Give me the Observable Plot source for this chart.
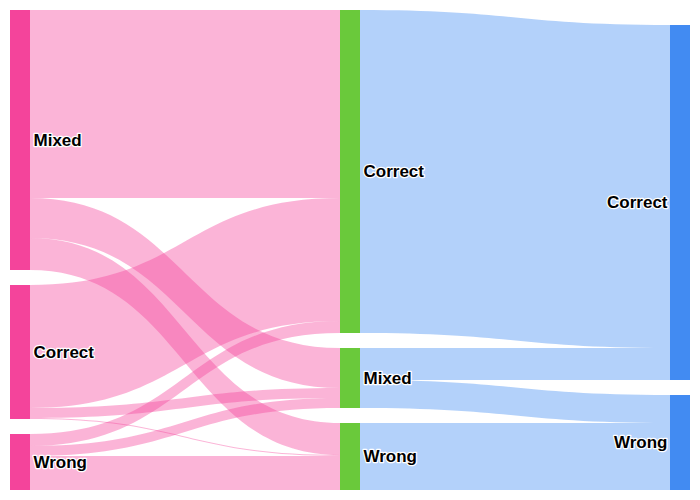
<!DOCTYPE html>
<html>
<head>
<meta charset="utf-8">
<script src="https://cdn.jsdelivr.net/npm/d3@7"></script>
<script src="https://cdn.jsdelivr.net/npm/@observablehq/plot@0.6"></script>
<style>
  html, body { margin: 0; padding: 0; background: #fff; }
  #chart svg { display: block; font-family: "Liberation Sans", Arial, sans-serif; }
</style>
</head>
<body>
<div id="chart"></div>
<script>
// ---- Data ----
const stage1Labels = ["Mixed", "Correct", "Wrong"];
const stage2Labels = ["Correct", "Mixed", "Wrong"];
const stage3Labels = ["Correct", "Wrong"];

// flows from stage 1 nodes (rows) to stage 2 nodes (columns: Correct, Mixed, Wrong)
const fromMixed1   = [94, 20, 16];
const fromCorrect1 = [61.5, 5, 0.5];
const fromWrong1   = [6, 5, 17];

// flows from stage 2 nodes (rows) to stage 3 nodes (columns: Correct, Wrong)
const fromCorrect2 = [161.5, 0];
const fromMixed2   = [16, 14];
const fromWrong2   = [0, 33.5];

const nodeColors = ["#f4449b", "#6ac93b", "#428bf2"];
const linkColors = ["#f4449b", "#428bf2"];
const columnAlign = ["top", "top", "bottom"];

// ---- Layout (computed from the data) ----
const columns = [stage1Labels, stage2Labels, stage3Labels];
const flows = [
  [fromMixed1, fromCorrect1, fromWrong1],
  [fromCorrect2, fromMixed2, fromWrong2]
];
const pad = 7.5;          // gap between nodes, in value units
const nodeW = 1 / 34;     // node width as a share of the x domain

const nodeValues = columns.map((labels, c) => labels.map((_, i) => {
  const out = c < flows.length ? d3.sum(flows[c][i]) : 0;
  const inn = c > 0 ? d3.sum(flows[c - 1], row => row[i]) : 0;
  return Math.max(out, inn);
}));
const extent = d3.max(nodeValues, vs => d3.sum(vs) + pad * (vs.length - 1));
const colX = c => c / (columns.length - 1) * (1 - nodeW);

const nodes = [];
columns.forEach((labels, c) => {
  const vals = nodeValues[c];
  const total = d3.sum(vals) + pad * (vals.length - 1);
  let y = columnAlign[c] === "bottom" ? extent - total : 0;
  labels.forEach((label, i) => {
    nodes.push({col: c, i, label, x0: colX(c), x1: colX(c) + nodeW, y0: y, y1: y + vals[i], color: nodeColors[c]});
    y += vals[i] + pad;
  });
});
const nodeAt = (c, i) => nodes.find(n => n.col === c && n.i === i);

const linkPts = [];
let id = 0;
flows.forEach((mat, c) => {
  const outOff = mat.map(() => 0);
  const inOff = mat[0].map(() => 0);
  mat.forEach((row, s) => {
    row.forEach((v, t) => {
      if (!v) return;
      const sn = nodeAt(c, s), tn = nodeAt(c + 1, t);
      const sy = sn.y0 + outOff[s], ty = tn.y0 + inOff[t];
      outOff[s] += v; inOff[t] += v;
      const color = linkColors[c];
      linkPts.push({id, x: sn.x1, y1: sy, y2: sy + v, color});
      linkPts.push({id, x: tn.x0, y1: ty, y2: ty + v, color});
      id++;
    });
  });
});

const lastCol = columns.length - 1;
const labelStyle = {
  y: d => (d.y0 + d.y1) / 2,
  text: "label",
  fontSize: 17,
  fontWeight: "bold",
  fill: "black",
  stroke: "white",
  strokeWidth: 2.5
};
const chart = Plot.plot({
  width: 700,
  height: 500,
  margin: 10,
  x: {domain: [0, 1], axis: null},
  y: {domain: [0, extent], reverse: true, axis: null},
  color: {type: "identity"},
  marks: [
    Plot.area(linkPts, {x1: "x", y1: "y1", y2: "y2", z: "id", fill: "color", fillOpacity: 0.4, curve: "bump-x"}),
    Plot.rect(nodes, {x1: "x0", x2: "x1", y1: "y0", y2: "y1", fill: "color"}),
    Plot.text(nodes.filter(d => d.col !== lastCol), {...labelStyle, x: "x1", textAnchor: "start", dx: 3}),
    Plot.text(nodes.filter(d => d.col === lastCol), {...labelStyle, x: "x0", textAnchor: "end", dx: -3})
  ]
});
document.getElementById("chart").appendChild(chart);
</script>
</body>
</html>
